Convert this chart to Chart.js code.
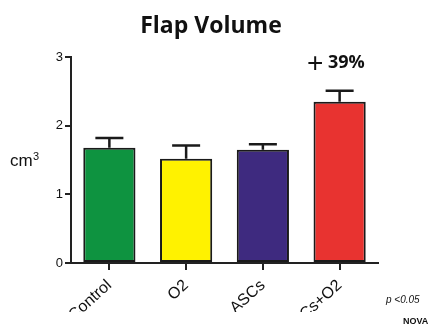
<!DOCTYPE html>
<html>
<head>
<meta charset="utf-8">
<script src="https://cdn.jsdelivr.net/npm/chart.js@4"></script>
<style>
  html, body { margin: 0; padding: 0; background: #fff; }
  #wrap { width: 430px; height: 327px; }
</style>
</head>
<body>
<div id="wrap"><canvas id="flapChart" width="430" height="327"></canvas></div>
<script>
// data
const groups = ['Control', 'O2', 'ASCs', 'ASCs+O2'];
const volume = [1.68, 1.52, 1.65, 2.35];
const errTop = [1.82, 1.71, 1.73, 2.51];
const barColors = ['#0e9340', '#fff200', '#3e2a7f', '#e83330'];
const yTicks = [0, 1, 2, 3];

// upper error bars + slide texts
const extras = {
    id: 'extras',
    afterDatasetsDraw(chart) {
        const c = chart.ctx;
        const x = chart.scales.x, y = chart.scales.y;
        c.save();
        c.strokeStyle = '#1a1a1a';
        c.lineWidth = 2.5;
        groups.forEach((g, i) => {
            let cx = x.getPixelForValue(i);
            let top = y.getPixelForValue(volume[i]);
            let cap = y.getPixelForValue(errTop[i]);
            c.beginPath();
            c.moveTo(cx, top);
            c.lineTo(cx, cap);
            c.moveTo(cx - 14, cap);
            c.lineTo(cx + 14, cap);
            c.stroke();
        });
        c.restore();
    },
    afterDraw(chart) {
        const c = chart.ctx;
        c.save();
        // slide is cropped just under the rotated labels
        c.fillStyle = '#fff';
        c.fillRect(0, 312, 380, 15);

        c.fillStyle = '#111';
        c.textBaseline = 'alphabetic';
        c.textAlign = 'center';
        c.font = 'bold 23px "Open Sans"';
        c.fillText('Flap Volume', 211, 33);

        c.textAlign = 'left';
        c.font = '28px "Liberation Sans"';
        c.fillText('+', 307, 72);
        c.font = 'bold 18px "Open Sans"';
        c.fillText('39%', 328, 68);

        c.font = '17px "Liberation Sans"';
        c.fillText('cm', 10, 166);
        c.font = '11px "Liberation Sans"';
        c.fillText('3', 33, 160);

        c.font = 'italic 10px "Liberation Sans"';
        c.fillText('p <0.05', 386, 303);
        c.font = 'bold 9px "Liberation Sans"';
        c.fillText('NOVA', 403, 324);
        c.restore();
    }
};

new Chart(document.getElementById('flapChart'), {
    type: 'bar',
    data: {
        labels: groups,
        datasets: [{
            data: volume,
            backgroundColor: barColors,
            borderColor: '#1a1a1a',
            borderWidth: 2,
            borderSkipped: false,
            categoryPercentage: 1,
            barPercentage: 0.68
        }]
    },
    options: {
        responsive: false,
        animation: false,
        layout: { padding: { top: 57, right: 52, bottom: 0, left: 0 } },
        plugins: { legend: { display: false }, tooltip: { enabled: false }, title: { display: false } },
        scales: {
            x: {
                offset: true,
                grid: { display: true, offset: false, drawOnChartArea: false, tickLength: 7, color: '#222', lineWidth: 2 },
                border: { color: '#222', width: 2 },
                ticks: { color: '#111', font: { family: 'Liberation Sans', size: 16 }, maxRotation: 42, minRotation: 42, padding: 6 },
                afterFit(s) { s.height = 64; }
            },
            y: {
                min: 0,
                max: 3,
                afterBuildTicks(s) { s.ticks = yTicks.map(v => ({ value: v })); },
                grid: { drawOnChartArea: false, tickLength: 6, color: '#222', lineWidth: 2 },
                border: { color: '#222', width: 2 },
                ticks: { color: '#111', font: { family: 'Liberation Sans', size: 13 }, padding: 2 },
                afterFit(s) { s.width = 71; }
            }
        }
    },
    plugins: [extras]
});
</script>
</body>
</html>
